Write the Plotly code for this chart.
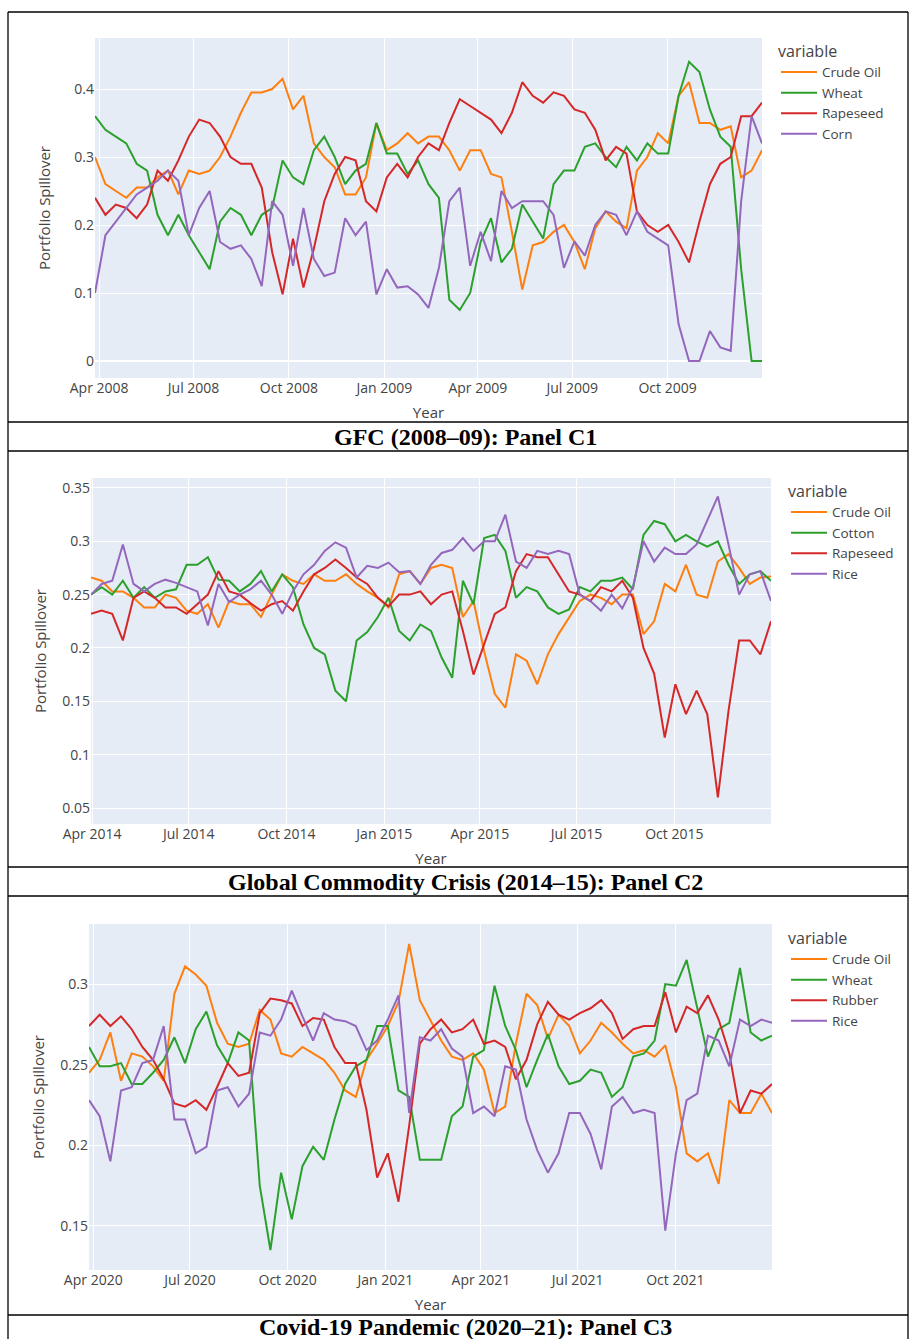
import pandas as pd
import plotly.graph_objects as go

# ---------------- Panel C1: GFC (2008-09) ----------------
gfc_dates = pd.date_range("2008-03-28", "2009-12-31", periods=65)
gfc_crude_oil = [0.30, 0.26, 0.25, 0.24, 0.255, 0.255, 0.27, 0.28, 0.245, 0.28,
                 0.275, 0.28, 0.30, 0.33, 0.365, 0.395, 0.395, 0.40, 0.415, 0.37,
                 0.39, 0.32, 0.30, 0.285, 0.245, 0.245, 0.27, 0.35, 0.31, 0.32,
                 0.335, 0.32, 0.33, 0.33, 0.31, 0.28, 0.31, 0.31, 0.275, 0.27,
                 0.19, 0.105, 0.17, 0.175, 0.19, 0.20, 0.175, 0.135, 0.195, 0.22,
                 0.205, 0.195, 0.28, 0.30, 0.335, 0.32, 0.39, 0.41, 0.35, 0.35,
                 0.34, 0.345, 0.27, 0.28, 0.31]
gfc_wheat = [0.36, 0.34, 0.33, 0.32, 0.29, 0.28, 0.215, 0.185, 0.215, 0.185,
             0.16, 0.135, 0.205, 0.225, 0.215, 0.185, 0.215, 0.225, 0.295, 0.27,
             0.26, 0.31, 0.33, 0.30, 0.26, 0.28, 0.29, 0.35, 0.305, 0.305,
             0.275, 0.295, 0.26, 0.24, 0.09, 0.075, 0.10, 0.175, 0.21, 0.145,
             0.165, 0.23, 0.205, 0.18, 0.26, 0.28, 0.28, 0.315, 0.32, 0.30,
             0.285, 0.315, 0.295, 0.32, 0.305, 0.305, 0.39, 0.44, 0.425, 0.37,
             0.33, 0.315, 0.135, 0.0, 0.0]
gfc_rapeseed = [0.24, 0.215, 0.23, 0.225, 0.21, 0.23, 0.28, 0.265, 0.295, 0.33,
                0.355, 0.35, 0.33, 0.30, 0.29, 0.29, 0.255, 0.16, 0.098, 0.18,
                0.108, 0.165, 0.235, 0.275, 0.30, 0.295, 0.235, 0.22, 0.27, 0.29,
                0.27, 0.30, 0.32, 0.31, 0.35, 0.385, 0.375, 0.365, 0.355, 0.335,
                0.365, 0.41, 0.39, 0.38, 0.395, 0.39, 0.37, 0.365, 0.34, 0.295,
                0.315, 0.305, 0.22, 0.20, 0.19, 0.20, 0.175, 0.145, 0.205, 0.26,
                0.29, 0.30, 0.36, 0.36, 0.38]
gfc_corn = [0.10, 0.185, 0.205, 0.225, 0.245, 0.255, 0.265, 0.28, 0.265, 0.185,
            0.225, 0.25, 0.175, 0.165, 0.17, 0.15, 0.11, 0.235, 0.215, 0.14,
            0.225, 0.15, 0.125, 0.13, 0.21, 0.185, 0.205, 0.098, 0.135, 0.108,
            0.11, 0.098, 0.078, 0.137, 0.235, 0.255, 0.14, 0.19, 0.147, 0.25,
            0.225, 0.235, 0.235, 0.235, 0.215, 0.137, 0.176, 0.155, 0.20, 0.22,
            0.215, 0.185, 0.22, 0.19, 0.18, 0.17, 0.054, 0.0, 0.0, 0.044,
            0.02, 0.015, 0.235, 0.36, 0.32]

# ---------------- Panel C2: Global Commodity Crisis (2014-15) ----------------
gcc_dates = pd.date_range("2014-03-31", "2015-12-31", periods=65)
gcc_crude_oil = [0.266, 0.263, 0.253, 0.253, 0.247, 0.238, 0.238, 0.25, 0.247, 0.235,
                 0.232, 0.241, 0.219, 0.244, 0.241, 0.241, 0.229, 0.25, 0.269, 0.263,
                 0.26, 0.269, 0.263, 0.263, 0.269, 0.26, 0.253, 0.247, 0.238, 0.269,
                 0.272, 0.26, 0.275, 0.278, 0.275, 0.229, 0.244, 0.197, 0.157, 0.144,
                 0.194, 0.188, 0.166, 0.194, 0.213, 0.229, 0.244, 0.25, 0.247, 0.241,
                 0.25, 0.25, 0.213, 0.225, 0.26, 0.253, 0.278, 0.25, 0.247, 0.281,
                 0.288, 0.275, 0.26, 0.266, 0.267]
gcc_cotton = [0.25, 0.257, 0.25, 0.263, 0.247, 0.257, 0.247, 0.253, 0.255, 0.278,
              0.278, 0.285, 0.264, 0.263, 0.253, 0.26, 0.272, 0.253, 0.269, 0.257,
              0.222, 0.20, 0.194, 0.16, 0.15, 0.207, 0.215, 0.229, 0.247, 0.216,
              0.207, 0.222, 0.216, 0.191, 0.172, 0.263, 0.241, 0.303, 0.306, 0.291,
              0.247, 0.257, 0.253, 0.238, 0.232, 0.236, 0.257, 0.253, 0.263, 0.263,
              0.266, 0.255, 0.306, 0.319, 0.316, 0.30, 0.306, 0.30, 0.295, 0.30,
              0.278, 0.26, 0.269, 0.272, 0.263]
gcc_rapeseed = [0.232, 0.235, 0.232, 0.207, 0.247, 0.253, 0.247, 0.238, 0.238, 0.232,
                0.241, 0.25, 0.272, 0.253, 0.25, 0.242, 0.235, 0.241, 0.244, 0.235,
                0.253, 0.269, 0.275, 0.283, 0.275, 0.266, 0.26, 0.247, 0.239, 0.25,
                0.25, 0.253, 0.241, 0.25, 0.253, 0.216, 0.175, 0.204, 0.232, 0.238,
                0.272, 0.288, 0.285, 0.285, 0.269, 0.253, 0.25, 0.244, 0.257, 0.253,
                0.263, 0.247, 0.20, 0.176, 0.116, 0.166, 0.138, 0.16, 0.138, 0.06,
                0.141, 0.207, 0.207, 0.194, 0.225]
gcc_rice = [0.25, 0.26, 0.263, 0.297, 0.26, 0.253, 0.26, 0.264, 0.261, 0.257,
            0.253, 0.221, 0.26, 0.243, 0.25, 0.255, 0.263, 0.25, 0.232, 0.253,
            0.269, 0.278, 0.291, 0.299, 0.294, 0.266, 0.277, 0.275, 0.28, 0.271,
            0.272, 0.26, 0.278, 0.289, 0.292, 0.303, 0.291, 0.30, 0.30, 0.325,
            0.281, 0.275, 0.291, 0.288, 0.291, 0.288, 0.25, 0.244, 0.235, 0.25,
            0.237, 0.257, 0.30, 0.281, 0.294, 0.288, 0.288, 0.297, 0.319, 0.342,
            0.297, 0.25, 0.269, 0.272, 0.244]

# ---------------- Panel C3: Covid-19 Pandemic (2020-21) ----------------
cov_dates = pd.date_range("2020-03-28", "2021-12-31", periods=65)
cov_crude_oil = [0.245, 0.253, 0.27, 0.24, 0.257, 0.255, 0.249, 0.24, 0.294, 0.311,
                 0.306, 0.299, 0.276, 0.263, 0.261, 0.263, 0.284, 0.278, 0.257, 0.255,
                 0.261, 0.257, 0.253, 0.245, 0.234, 0.23, 0.253, 0.263, 0.274, 0.289,
                 0.325, 0.29, 0.277, 0.265, 0.255, 0.253, 0.257, 0.247, 0.22, 0.224,
                 0.263, 0.294, 0.287, 0.266, 0.281, 0.274, 0.257, 0.265, 0.276, 0.27,
                 0.263, 0.257, 0.259, 0.255, 0.262, 0.236, 0.195, 0.19, 0.195, 0.176,
                 0.228, 0.22, 0.22, 0.232, 0.22]
cov_wheat = [0.261, 0.249, 0.249, 0.251, 0.238, 0.238, 0.245, 0.253, 0.267, 0.251,
             0.272, 0.283, 0.262, 0.251, 0.27, 0.265, 0.175, 0.135, 0.183, 0.154,
             0.187, 0.199, 0.191, 0.216, 0.238, 0.249, 0.253, 0.274, 0.274, 0.234,
             0.23, 0.191, 0.191, 0.191, 0.218, 0.224, 0.255, 0.259, 0.299, 0.274,
             0.259, 0.236, 0.253, 0.269, 0.249, 0.238, 0.24, 0.247, 0.245, 0.23,
             0.236, 0.255, 0.257, 0.265, 0.30, 0.299, 0.315, 0.286, 0.255, 0.272,
             0.276, 0.31, 0.27, 0.265, 0.268]
cov_rubber = [0.274, 0.281, 0.274, 0.28, 0.272, 0.261, 0.253, 0.241, 0.226, 0.224,
              0.228, 0.222, 0.236, 0.251, 0.243, 0.245, 0.282, 0.291, 0.29, 0.288,
              0.274, 0.279, 0.278, 0.261, 0.251, 0.251, 0.222, 0.18, 0.195, 0.165,
              0.212, 0.263, 0.272, 0.278, 0.27, 0.272, 0.278, 0.263, 0.265, 0.261,
              0.241, 0.253, 0.275, 0.289, 0.281, 0.278, 0.282, 0.285, 0.29, 0.282,
              0.266, 0.272, 0.274, 0.274, 0.295, 0.27, 0.286, 0.282, 0.293, 0.278,
              0.257, 0.22, 0.234, 0.232, 0.238]
cov_rice = [0.228, 0.218, 0.19, 0.234, 0.236, 0.251, 0.253, 0.274, 0.216, 0.216,
            0.195, 0.199, 0.234, 0.236, 0.224, 0.232, 0.27, 0.268, 0.278, 0.296,
            0.28, 0.265, 0.282, 0.278, 0.277, 0.274, 0.259, 0.265, 0.278, 0.293,
            0.22, 0.267, 0.265, 0.272, 0.26, 0.255, 0.22, 0.224, 0.218, 0.249,
            0.247, 0.216, 0.197, 0.183, 0.195, 0.22, 0.22, 0.207, 0.185, 0.224,
            0.23, 0.22, 0.222, 0.22, 0.147, 0.195, 0.228, 0.232, 0.268, 0.265,
            0.249, 0.278, 0.274, 0.278, 0.276]

PALETTE = ["#ff7f0e", "#2ca02c", "#d62728", "#9467bd"]

W, H = 910, 1339


def fx(px):
    return px / W


def fy(py):
    return 1 - py / H


panels = [
    dict(dates=gfc_dates,
         series=[("Crude Oil", gfc_crude_oil), ("Wheat", gfc_wheat),
                 ("Rapeseed", gfc_rapeseed), ("Corn", gfc_corn)],
         box=(95, 762, 38, 378), yrange=[-0.025, 0.475], dtick=0.1,
         xrange=["2008-03-28", "2009-12-31"], legend_top=36,
         legend_left=776, ytitle_gap=20),
    dict(dates=gcc_dates,
         series=[("Crude Oil", gcc_crude_oil), ("Cotton", gcc_cotton),
                 ("Rapeseed", gcc_rapeseed), ("Rice", gcc_rice)],
         box=(91, 771, 478, 824), yrange=[0.035, 0.3593], dtick=0.05,
         xrange=["2014-03-31", "2015-12-31"], legend_top=476,
         legend_left=786, ytitle_gap=12),
    dict(dates=cov_dates,
         series=[("Crude Oil", cov_crude_oil), ("Wheat", cov_wheat),
                 ("Rubber", cov_rubber), ("Rice", cov_rice)],
         box=(89, 772, 924, 1270), yrange=[0.1226, 0.3373], dtick=0.05,
         xrange=["2020-03-28", "2021-12-31"], legend_top=923,
         legend_left=786, ytitle_gap=12),
]

captions = [
    ("GFC (2008–09): Panel C1", 437),
    ("Global Commodity Crisis (2014–15): Panel C2", 882),
    ("Covid-19 Pandemic (2020–21): Panel C3", 1327),
]

TEXT = "#444"
fig = go.Figure()
layout = {}

for i, p in enumerate(panels, start=1):
    sfx = "" if i == 1 else str(i)
    leg = "legend" if i == 1 else f"legend{i}"
    for (name, vals), color in zip(p["series"], PALETTE):
        fig.add_trace(go.Scatter(
            x=p["dates"], y=vals, name=name, mode="lines",
            line=dict(color=color, width=2),
            xaxis=f"x{sfx}", yaxis=f"y{sfx}", legend=leg,
        ))
    x0, x1, y0, y1 = p["box"]
    layout[f"xaxis{sfx}"] = dict(
        domain=[fx(x0), fx(x1)], anchor=f"y{sfx}", range=p["xrange"],
        dtick="M3", tickformat="%b %Y", tick0="2008-01-01",
        showgrid=True, gridcolor="white", gridwidth=1, zeroline=False,
        showline=False, ticks="", automargin=False,
        tickfont=dict(size=14, color=TEXT),
        title=dict(text="Year", font=dict(size=15, color=TEXT), standoff=11),
    )
    layout[f"yaxis{sfx}"] = dict(
        domain=[fy(y1), fy(y0)], anchor=f"x{sfx}", range=p["yrange"],
        dtick=p["dtick"], tick0=0, showgrid=True, gridcolor="white",
        gridwidth=1, zeroline=True, zerolinecolor="white", zerolinewidth=2,
        showline=False, ticks="", automargin=False,
        tickfont=dict(size=14, color=TEXT),
        title=dict(text="Portfolio Spillover", font=dict(size=15, color=TEXT),
                   standoff=p["ytitle_gap"]),
    )
    layout[leg] = dict(
        x=fx(p["legend_left"]), y=fy(p["legend_top"]),
        xanchor="left", yanchor="top", bgcolor="rgba(0,0,0,0)",
        itemwidth=36,
        title=dict(text="variable", font=dict(size=16, color=TEXT)),
        font=dict(size=13.5, color=TEXT), tracegroupgap=0,
    )

# table frame around the panels and captions
shapes = []
for yy in [12, 422, 451, 867, 896, 1315]:
    shapes.append(dict(type="line", xref="paper", yref="paper",
                       x0=fx(8), x1=fx(908), y0=fy(yy), y1=fy(yy),
                       line=dict(color="black", width=1.3)))
for xx in [8, 908]:
    shapes.append(dict(type="line", xref="paper", yref="paper",
                       x0=fx(xx), x1=fx(xx), y0=fy(12), y1=0,
                       line=dict(color="black", width=1.3)))

annotations = [
    dict(text=f"<b>{txt}</b>", x=fx(466), y=fy(yy), xref="paper",
         yref="paper", xanchor="center", yanchor="middle", showarrow=False,
         font=dict(family="Liberation Serif, Times New Roman, serif",
                   size=24, color="black"))
    for txt, yy in captions
]

fig.update_layout(
    width=W, height=H, autosize=False,
    margin=dict(l=0, r=0, t=0, b=0, pad=0),
    paper_bgcolor="white", plot_bgcolor="#E5ECF6",
    font=dict(family="Open Sans, Arial, sans-serif", size=14, color=TEXT),
    shapes=shapes, annotations=annotations, showlegend=True,
    **layout,
)

fig.write_html("out.html")
